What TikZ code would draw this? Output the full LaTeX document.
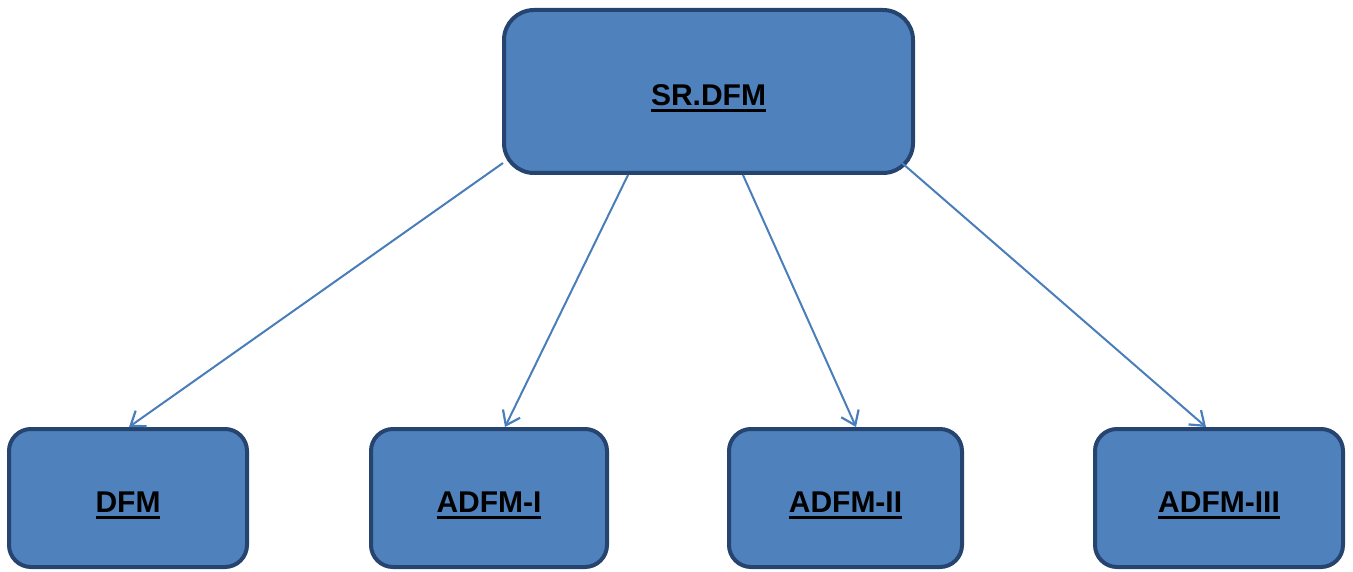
\documentclass[tikz,border=0pt]{standalone}
\usepackage{fontspec}
\setmainfont{Liberation Sans}
\usetikzlibrary{arrows.meta,calc}
\definecolor{boxfill}{HTML}{4F81BD}
\definecolor{boxline}{HTML}{264470}
\definecolor{linkcol}{HTML}{4A7EBB}
% bold label with a heavy underline
\newcommand\ulabel[1]{\setbox0\hbox{\bfseries #1}\rlap{\rule[-7pt]{\wd0}{3pt}}\box0}
\tikzset{
  box/.style={draw=boxline, fill=boxfill, line width=4pt, rounded corners=#1,
    inner sep=0pt, text height=28pt, text depth=0pt,
    font=\fontsize{30}{34}\selectfont, text=black},
  box/.default=22pt,
  link/.style={draw=linkcol, line width=2pt,
    -{Straight Barb[length=13pt,width=19pt,line width=2.2pt]}}
}
\begin{document}
\begin{tikzpicture}[x=1pt,y=-1pt]
\useasboundingbox (0,0) rectangle (1353,572);
\node[box=30pt, minimum width=409pt, minimum height=163pt] (top) at (708.5,91.5) {\ulabel{SR.DFM}};
\node[box, minimum width=238pt, minimum height=138pt] (dfm) at (128,498) {\ulabel{DFM}};
\node[box, minimum width=236pt, minimum height=138pt] (a1) at (489,498) {\ulabel{ADFM-I}};
\node[box, minimum width=233pt, minimum height=138pt] (a2) at (845.5,498) {\ulabel{ADFM-II}};
\node[box, minimum width=248pt, minimum height=138pt] (a3) at (1219,498) {\ulabel{ADFM-III}};
\draw[link] ($(top.center)+(-205.5,71.5)$) -- ($(dfm.north)+(1,0)$);
\draw[link] ($(top.south)+(-80.5,0)$) -- ($(a1.north)+(16,0)$);
\draw[link] ($(top.south)+(34.5,0)$) -- ($(a2.north)+(10.5,0)$);
\draw[link] ($(top.center)+(193.5,71.5)$) -- ($(a3.north)+(-13,0)$);
\end{tikzpicture}
\end{document}
